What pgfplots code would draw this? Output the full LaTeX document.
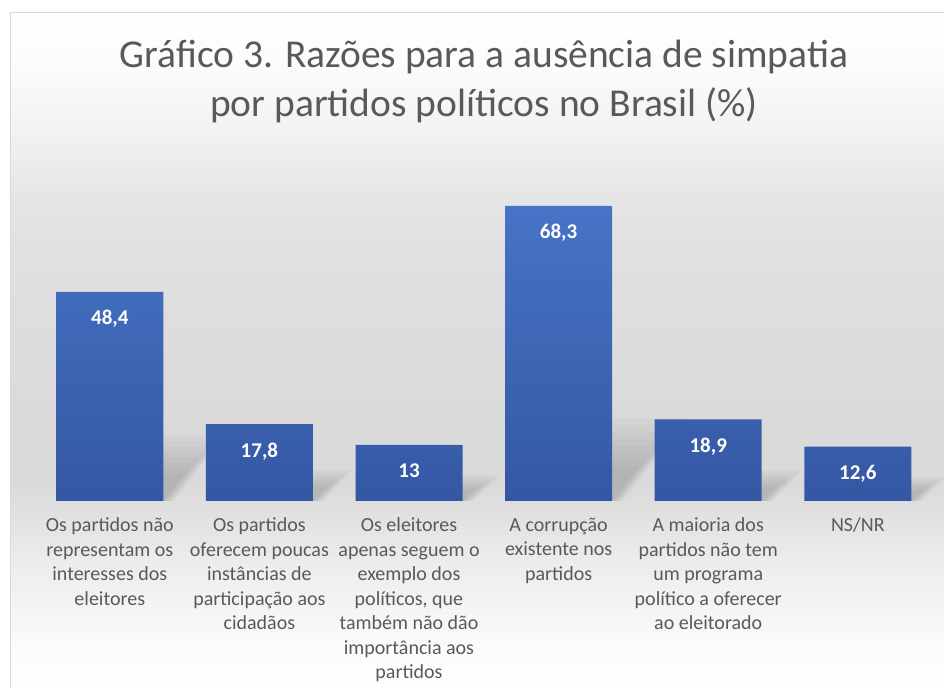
\documentclass[border=0pt]{standalone}
\usepackage{pgfplots}
\pgfplotsset{compat=1.18}
\usepackage{fontspec}
\setmainfont{Carlito}
\definecolor{txt}{HTML}{595959}
\definecolor{bartop}{HTML}{4674C6}
\definecolor{barbot}{HTML}{3457A3}
\definecolor{frame}{HTML}{D9D9D9}
\colorlet{g03}{gray!3}
\colorlet{g10}{gray!10}
\colorlet{g15}{gray!15}
\colorlet{g18}{gray!19}
\colorlet{g22}{gray!24}
\colorlet{g30}{gray!29}
\pgfdeclareverticalshading{bgshade}{100bp}{color(0bp)=(white); color(25bp)=(white); color(28bp)=(g03); color(34.5bp)=(g15); color(40bp)=(g30); color(45bp)=(g30); color(57.4bp)=(g22); color(62bp)=(g18); color(66.3bp)=(g10); color(71bp)=(g03); color(75bp)=(white); color(100bp)=(white)}
% one layer of a soft decorative shadow: #1 x, #2 height, #3 shear, #4 scale, #5 extra bottom spread
\newcommand\shl[5]{%
  \fill[black!60, fill opacity=0.045] (axis cs:#1-0.3576,0) -- (axis cs:#1+0.3576+#5,0) -- (axis cs:#1+0.3576+#4*#3+#5,#4*#2) -- (axis cs:#1-0.3576+#4*#3,#4*#2) -- cycle;}
\newcommand\barshadow[3]{%
  \shl{#1}{#2}{#3}{0.5}{0}\shl{#1}{#2}{#3}{0.6}{0.01}\shl{#1}{#2}{#3}{0.7}{0.02}%
  \shl{#1}{#2}{#3}{0.8}{0.03}\shl{#1}{#2}{#3}{0.9}{0.04}\shl{#1}{#2}{#3}{1.0}{0.05}%
  \shl{#1}{#2}{#3}{1.1}{0.06}\shl{#1}{#2}{#3}{1.2}{0.07}}
\begin{document}
\begin{tikzpicture}[x=1bp,y=1bp]
\useasboundingbox (0,0) rectangle (944,688);
\fill[white] (0,0) rectangle (944,688);
\shade[shading=bgshade] (10,0) rectangle (944,675);
\draw[frame, line width=1bp] (10,-5) -- (10,675) -- (950,675);
\node[text=txt, font=\fontsize{39.5bp}{49bp}\selectfont, align=center] at (484,607)
  {Gráfico 3. Razões para a ausência de simpatia\\por partidos políticos no Brasil (\%)};
\begin{axis}[
  at={(35bp,187bp)}, anchor=south west,
  scale only axis, width=897.6bp, height=345.6bp,
  xmin=-0.5, xmax=5.5, ymin=0, ymax=80,
  axis y line=none,
  axis x line=bottom,
  x axis line style={draw=none},
  xtick style={draw=none},
  ytick=\empty,
  clip=false,
  ybar, bar width=107bp,
  xtick=data,
  xticklabels={{Os partidos não\\representam os\\interesses dos\\eleitores},
    {Os partidos\\oferecem poucas\\instâncias de\\participação aos\\cidadãos},
    {Os eleitores\\apenas seguem o\\exemplo dos\\políticos, que\\também não dão\\importância aos\\partidos},
    {A corrupção\\existente nos\\partidos},
    {A maioria dos\\partidos não tem\\um programa\\político a oferecer\\ao eleitorado},
    {NS/NR}},
  xticklabel style={align=center, font=\fontsize{20bp}{24.5bp}\selectfont, text=txt, anchor=north, yshift=-9bp},
  nodes near coords={\pgfmathprintnumber[use comma, assume math mode=true]{\pgfplotspointmeta}},
  every node near coord/.append style={font=\bfseries\fontsize{21bp}{21bp}\selectfont, text=white, anchor=north, yshift=-15bp},
]
\barshadow{0}{12.7}{0.28}
\barshadow{1}{6.0}{0.16}
\barshadow{2}{5.0}{0.15}
\barshadow{3}{16.0}{0.36}
\barshadow{4}{6.0}{0.17}
\barshadow{5}{4.6}{0.13}
\addplot[draw=none, top color=bartop, bottom color=barbot] coordinates {(0,48.4) (1,17.8) (2,13) (3,68.3) (4,18.9) (5,12.6)};
\end{axis}
\end{tikzpicture}
\end{document}
